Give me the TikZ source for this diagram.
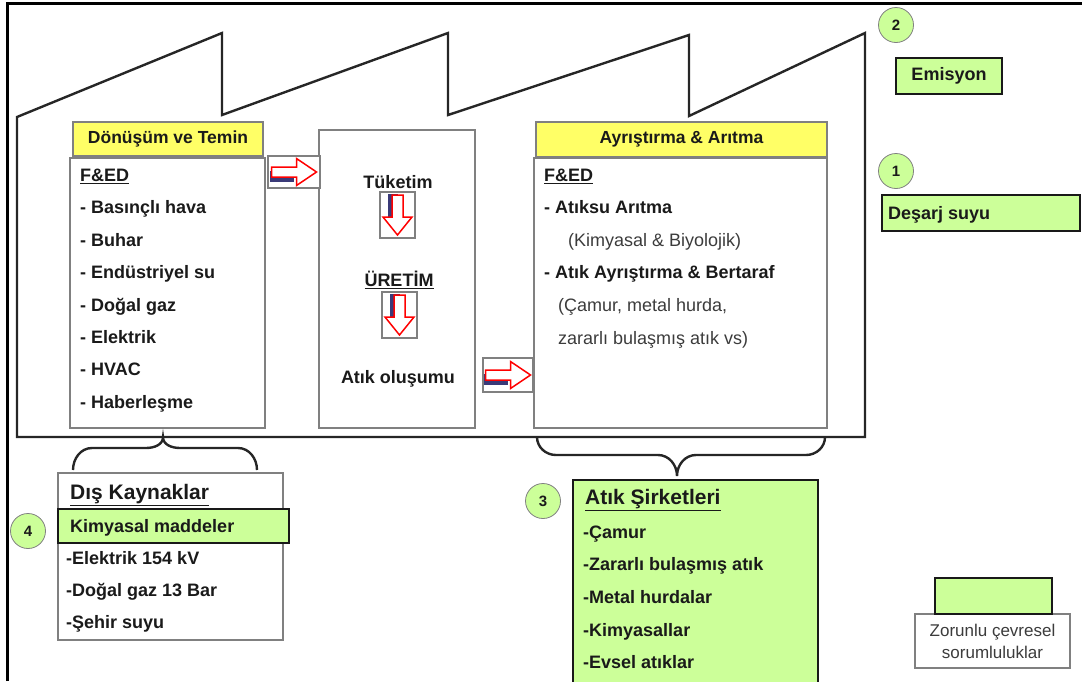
\documentclass[tikz,border=0pt]{standalone}
\usepackage{fontspec}
\setmainfont{Liberation Sans}
\definecolor{boxyellow}{HTML}{FFFF66}
\definecolor{boxgreen}{HTML}{CCFF99}
\definecolor{edgegray}{HTML}{808080}
\definecolor{txtdark}{HTML}{1A1A1A}
\definecolor{txtgray}{HTML}{3C3C3C}
\definecolor{shadenavy}{HTML}{3A3A78}
\newcommand{\fsz}[1]{\fontsize{#1}{#1}\selectfont}

\begin{document}
\begin{tikzpicture}[x=1pt,y=-1pt,
    every node/.style={inner sep=0pt,text=txtdark},
    greybox/.style={rectangle,draw=edgegray,line width=1.3pt,fill=white},
    headbox/.style={greybox,fill=boxyellow,font=\fsz{17.5}\bfseries},
    dutybox/.style={rectangle,draw=black!90,line width=2.4pt,fill=boxgreen},
    num/.style={circle,draw=edgegray,line width=0.8pt,fill=boxgreen,minimum size=35pt,font=\fsz{15}\bfseries},
    item/.style={anchor=west,font=\fsz{18}\bfseries,text height=12.9pt,text depth=0pt},
    note/.style={anchor=west,font=\fsz{18},text=txtgray,text height=12.9pt,text depth=0pt},
    bigitem/.style={anchor=west,font=\fsz{21}\bfseries,text height=15pt,text depth=0pt},
    blockarrow/.style={draw=red,fill=white,line width=1.5pt,line join=miter},
    arrowshade/.style={fill=shadenavy},
    outline/.style={black!85,line width=2.4pt,line join=miter},
    brace/.style={black!85,line width=2.4pt}]
  \useasboundingbox (0,0) rectangle (1082,681);
  % frame of the page
  \draw[black,line width=3pt] (7,681) -- (7,3) -- (1082,3);
  % the factory outline with its saw-tooth roof
  \draw[outline] (17,437) -- (17,117) -- (222,33) -- (222,115) -- (448,33) -- (448,115)
    -- (689,35) -- (689,116) -- (865,33) -- (865,437) -- cycle;

  % left block: conversion and supply
  \node[headbox,minimum width=190pt,minimum height=34pt] (head1) at (168,139) {Dönüşüm ve Temin};
  \node[greybox,minimum width=195pt,minimum height=270pt] (list1) at (167.5,293) {};
  \node[item] (l1t) at (80,175) {\underline{F\&ED}};
  \foreach \txt [count=\i] in {Basınçlı hava,Buhar,Endüstriyel su,Doğal gaz,Elektrik,HVAC,Haberleşme}
    \node[item] (l1i\i) at (80,{175+32.4*\i}) {- \txt};

  % middle block: consumption and production
  \node[greybox,minimum width=156pt,minimum height=298pt] (mid) at (397,279) {};
  \node[item,anchor=center] (cons) at (398,182) {Tüketim};
  \node[greybox,minimum width=35pt,minimum height=46pt] (dbox1) at (397.5,215) {};
  \node[item,anchor=center] (prod) at (399,280) {\underline{ÜRETİM}};
  \node[greybox,minimum width=35pt,minimum height=46pt] (dbox2) at (399.5,315) {};
  \node[item,anchor=center] (waste) at (398,377) {Atık oluşumu};

  % boxes for the arrows between the blocks
  \node[greybox,minimum width=52pt,minimum height=32pt] (abox1) at (294,172) {};
  \node[greybox,minimum width=50pt,minimum height=34pt] (abox2) at (508,375) {};

  % block arrows, each with its dark shade
  \foreach \b in {abox1,abox2}{
    \fill[arrowshade,shift={(\b)}] (-24.5,-1) -- (0,-1) -- (0,9.5) -- (-24.5,9.5) -- cycle;
    \draw[blockarrow,shift={(\b)}] (-22.5,-5) -- (2.5,-5) -- (2.5,-13.5) -- (22.5,0)
      -- (2.5,13.5) -- (2.5,5) -- (-22.5,5) -- cycle;
  }
  \foreach \b in {dbox1,dbox2}{
    \fill[arrowshade,shift={(\b)}] (-9.5,-21) -- (0,-21) -- (0,7) -- (-9.5,7) -- cycle;
    \draw[blockarrow,shift={(\b)}] (-5.5,-20) -- (5.5,-20) -- (5.5,2) -- (14.5,2)
      -- (0,20) -- (-14.5,2) -- (-5.5,2) -- cycle;
  }

  % right block: separation and treatment
  \node[headbox,minimum width=291pt,minimum height=35pt] (head2) at (681.5,139.5) {Ayrıştırma \& Arıtma};
  \node[greybox,minimum width=293pt,minimum height=270pt] (list2) at (680.5,293) {};
  \node[item] (r1t) at (544,175) {\underline{F\&ED}};
  \node[item] (r1a) at (544,207) {- Atıksu Arıtma};
  \node[note] (r1b) at (568,240) {(Kimyasal \& Biyolojik)};
  \node[item] (r1c) at (544,272) {- Atık Ayrıştırma \& Bertaraf};
  \node[note] (r1d) at (558,305) {(Çamur, metal hurda,};
  \node[note] (r1e) at (558,338) {zararlı bulaşmış atık vs)};

  % braces under the factory
  \draw[brace] (73,470) to[out=90,in=180] (92,448) -- (146,448) to[out=0,in=-90] (163,437)
    to[out=-90,in=180] (180,448) -- (238,448) to[out=0,in=90] (257,470);
  \draw[brace] (537,437) to[out=-90,in=180] (556,455) -- (658,455) to[out=0,in=90] (677,476)
    to[out=90,in=180] (696,455) -- (806,455) to[out=0,in=-90] (825,437);

  % external resources
  \node[greybox,minimum width=225pt,minimum height=167pt] (ext) at (170.5,556.5) {};
  \node[bigitem] (extt) at (70,492) {\underline{Dış Kaynaklar}};
  \node[dutybox,minimum width=231pt,minimum height=34pt] (chem) at (173.5,526) {};
  \node[item] (chemt) at (70,526) {Kimyasal maddeler};
  \node[item] (ext1) at (66,558) {-Elektrik 154 kV};
  \node[item] (ext2) at (66,590) {-Doğal gaz 13 Bar};
  \node[item] (ext3) at (66,622) {-Şehir suyu};
  \node[num] (n4) at (28,531) {4};

  % waste companies
  \node[dutybox,minimum width=245pt,minimum height=212pt] (firms) at (695.5,586) {};
  \node[bigitem] (firmst) at (585,497) {\underline{Atık Şirketleri}};
  \foreach \txt/\yy in {Çamur/532,Zararlı bulaşmış atık/564,Metal hurdalar/597,Kimyasallar/630,Evsel atıklar/662}
    \node[item] at (583,\yy) {-\txt};
  \node[num] (n3) at (543,501) {3};

  % emission and discharge
  \node[num] (n2) at (896,25) {2};
  \node[dutybox,minimum width=106pt,minimum height=36pt,font=\fsz{18}\bfseries] (emis) at (949,76) {Emisyon};
  \node[num] (n1) at (896,171) {1};
  \node[dutybox,minimum width=198pt,minimum height=36pt] (disch) at (981,213) {};
  \node[item] (discht) at (888,213) {Deşarj suyu};

  % legend
  \node[greybox,minimum width=155pt,minimum height=54pt,align=center,text=txtgray,
    font=\fontsize{17}{22}\selectfont] (legt) at (992.5,641) {Zorunlu  çevresel\\sorumluluklar};
  \node[dutybox,minimum width=117pt,minimum height=36pt] (legc) at (993.5,596) {};
\end{tikzpicture}
\end{document}
